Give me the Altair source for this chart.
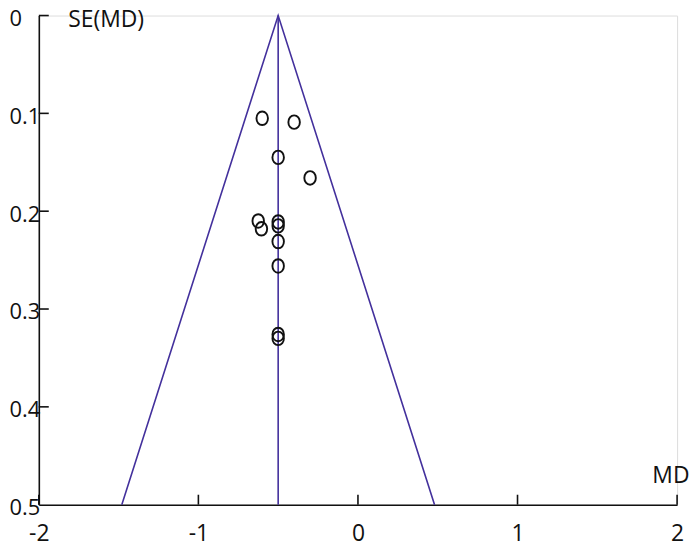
import altair as alt
import pandas as pd

# study points (MD, SE(MD))
md_values = [-0.60, -0.40, -0.50, -0.30, -0.625, -0.605, -0.50, -0.50, -0.50, -0.50, -0.50, -0.50]
se_values = [0.105, 0.109, 0.145, 0.166, 0.210, 0.218, 0.211, 0.215, 0.231, 0.256, 0.326, 0.330]

# funnel (pooled MD and 95% limits at SE = 0.5)
pooled_md = -0.50
funnel_x = [-1.48, -0.50, 0.48]
funnel_y = [0.5, 0.0, 0.5]

x_ticks = [-2, -1, 0, 1, 2]
y_ticks = [0, 0.1, 0.2, 0.3, 0.4, 0.5]

FONT = "Open Sans"
FS = 23
TFS = 23
LINE_COLOR = "#43309c"

pts = pd.DataFrame({"md": md_values, "se": se_values})
funnel = pd.DataFrame({"md": funnel_x, "se": funnel_y, "o": [0, 1, 2]})
center = pd.DataFrame({"md": [pooled_md], "se": [0.0], "se2": [0.5]})
xt = pd.DataFrame({"t": x_ticks})
yt = pd.DataFrame({"t": y_ticks[:-1]})

xscale = alt.Scale(domain=[-2, 2], nice=False, zero=False)
yscale = alt.Scale(domain=[0, 0.5], nice=False, zero=False, reverse=True)

x_axis = alt.Axis(
    values=x_ticks, labelExpr="'' + datum.value", ticks=False, grid=False,
    domainColor="#111111", domainWidth=1.6, labelFont=FONT, labelFontSize=FS,
    labelColor="#111111", labelBaseline="middle", labelPadding=29,
    title="MD", titleFont=FONT, titleFontSize=TFS, titleFontWeight="normal",
    titleColor="#111111", titleX=654, titleY=-29, titleAlign="right",
    titleBaseline="middle", labelFlush=False,
)
y_axis = alt.Axis(
    values=y_ticks, labelExpr="'' + datum.value", ticks=False, grid=False,
    domainColor="#111111", domainWidth=1.6, labelFont=FONT, labelFontSize=22,
    labelColor="#111111", labelAlign="left", labelBaseline="middle", labelPadding=30,
    labelOffset=3,
    title="SE(MD)", titleFont=FONT, titleFontSize=TFS, titleFontWeight="normal",
    titleColor="#111111", titleAngle=0, titleX=29, titleY=4, titleAlign="left",
    titleBaseline="middle",
)

base_axes = alt.Chart(center).mark_rule(color=LINE_COLOR, strokeWidth=1.6).encode(
    x=alt.X("md:Q", scale=xscale, axis=x_axis),
    y=alt.Y("se:Q", scale=yscale, axis=y_axis),
    y2="se2:Q",
)

funnel_line = alt.Chart(funnel).mark_line(color=LINE_COLOR, strokeWidth=1.6).encode(
    x=alt.X("md:Q", scale=xscale),
    y=alt.Y("se:Q", scale=yscale),
    order="o:Q",
)

ellipse = "M 0 -1 C 0.5 -1 0.85 -0.55 0.85 0 C 0.85 0.55 0.5 1 0 1 C -0.5 1 -0.85 0.55 -0.85 0 C -0.85 -0.55 -0.5 -1 0 -1 Z"
points = alt.Chart(pts).mark_point(
    shape=ellipse, size=185, filled=False, color="#111111", strokeWidth=1.9, opacity=1
).encode(
    x=alt.X("md:Q", scale=xscale),
    y=alt.Y("se:Q", scale=yscale),
)

xticks_layer = alt.Chart(xt).mark_rule(color="#111111", strokeWidth=1.6).encode(
    x=alt.X("t:Q", scale=xscale),
    y=alt.value(492),
    y2=alt.value(482),
)
yticks_layer = alt.Chart(yt).mark_rule(color="#111111", strokeWidth=1.6).encode(
    y=alt.Y("t:Q", scale=yscale),
    x=alt.value(0),
    x2=alt.value(10),
)

chart = alt.layer(base_axes, funnel_line, xticks_layer, yticks_layer, points).properties(
    width=642, height=492,
    autosize=alt.AutoSizeParams(type="none"),
    padding={"left": 31, "top": 6, "right": 15, "bottom": 42},
).configure_view(stroke=None).configure(background="white")

chart.save("out.html", embed_options={"renderer": "svg", "actions": False})
